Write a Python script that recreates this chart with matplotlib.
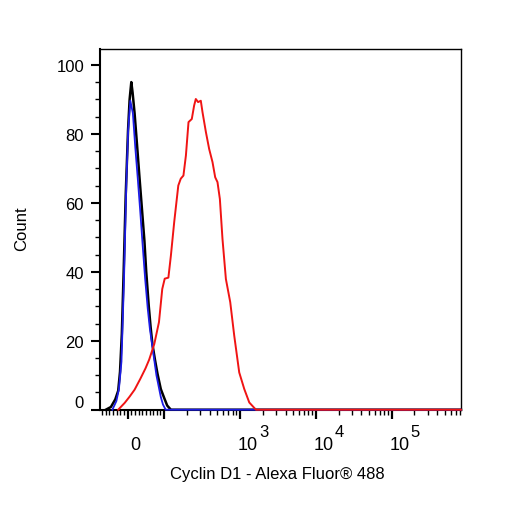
import matplotlib
matplotlib.use("Agg")
import matplotlib.pyplot as plt

plt.rcParams["font.family"] = ["Liberation Sans", "DejaVu Sans"]

# Histogram outlines (x in channel units, y = count)
black_x = [-60, -46, -34, -26, -21, -16, -11, -5.4, 1, 5.4, 10, 13.5, 19, 25.6,
           32, 39, 46, 51, 58, 63, 68, 75, 82, 91, 100, 110, 123, 820000]
black_y = [0, 0.8, 3, 5.5, 11, 22, 40, 62, 81, 90, 95, 92, 86, 77,
           68, 58.5, 49, 40, 30, 24, 19, 14.5, 10.4, 6, 3.5, 1.2, 0, 0]

blue_x = [-42, -31, -24, -17, -10, -3.5, 1.4, 7.3, 14.3, 21, 27.8, 34.6,
          41, 48, 55, 61, 67, 73, 79, 91, 97, 105, 820000]
blue_y = [0, 2.5, 6, 14, 38, 66, 81, 89.6, 86, 76, 67, 57.5,
          48, 38, 29.5, 23.5, 19, 14.5, 10, 3.7, 1.5, 0, 0]

red_x = [-26, -8, 5.4, 19, 35, 49, 59, 73, 86, 95, 102, 114, 123, 136, 154,
         166, 180, 194, 210, 232, 249, 262, 281, 305, 321, 356, 393, 435, 472,
         506, 544, 589, 653, 745, 841, 979, 1141, 1328, 1627, 820000]
red_y = [0, 2, 3.8, 5.8, 9, 12, 14.5, 19, 25.4, 35, 38, 38.3, 44.7, 54.4, 65,
         67, 67.9, 73.7, 83.4, 84.3, 88.2, 90.1, 89.2, 89.6, 86.3, 80.5, 75.6,
         71.8, 67.4, 66, 61.1, 49.5, 37.9, 31.2, 21.5, 10.8, 6, 2.1, 0, 0]

y_major = [0, 20, 40, 60, 80, 100]
y_minor = [v for v in range(5, 105, 5) if v % 20]
x_major = [0, 100, 1000, 10000, 100000]
x_labels = {0: ("0", None), 1000: ("10", "3"), 10000: ("10", "4"), 100000: ("10", "5")}
x_minor = ([-70, -60, -50, -40, -30, -20, -10, 10, 20, 30, 40, 50, 60, 70, 80, 90]
           + [m * 10 ** e for e in (2, 3, 4) for m in range(2, 10)]
           + [m * 100000 for m in range(2, 9)])

fig = plt.figure(figsize=(5.06, 5.06), dpi=100)
ax = fig.add_axes([0.1976, 0.1883, 0.7134, 0.7129])

ax.plot(black_x, black_y, color="black", lw=1.8, zorder=3, clip_on=False)
ax.plot(blue_x, blue_y, color="#1c1ce6", lw=1.3, zorder=3, clip_on=False)
ax.plot(red_x, red_y, color="#f01414", lw=1.4, zorder=3, clip_on=False)

ax.set_xscale("symlog", linthresh=100, linscale=0.432)
ax.set_xlim(-76, 820000)
ax.set_ylim(0, 104.6)

ax.set_xticks(x_major)
ax.set_xticks(x_minor, minor=True)
ax.set_xticklabels([])
ax.set_yticks(y_major)
ax.set_yticks(y_minor, minor=True)
ax.tick_params(axis="x", which="major", length=6.5, width=1.6, direction="out")
ax.tick_params(axis="x", which="minor", length=3.5, width=1.0, direction="out")
ax.tick_params(axis="y", which="major", length=6.5, width=1.5, labelsize=12, pad=5)
ax.tick_params(axis="y", which="minor", length=3.5, width=1.0)
ax.get_yticklabels()[0].set_verticalalignment("bottom")

for spine in ("left", "bottom"):
    ax.spines[spine].set_linewidth(1.5)
for spine in ("top", "right"):
    ax.spines[spine].set_linewidth(1.0)

# FlowJo style decade labels: "10" with a large raised exponent
tr = ax.get_xaxis_transform()
for val, (base, sup) in x_labels.items():
    ax.annotate(base, xy=(val, 0), xycoords=tr, xytext=(8, -39),
                textcoords="offset pixels", ha="center", va="baseline",
                fontsize=13, annotation_clip=False)
    if sup:
        ax.annotate(sup, xy=(val, 0), xycoords=tr, xytext=(19, -26),
                    textcoords="offset pixels", ha="left", va="baseline",
                    fontsize=12, annotation_clip=False)

ax.set_xlabel("Cyclin D1 - Alexa Fluor\u00ae 488", fontsize=12)
ax.xaxis.set_label_coords(0.49, -0.156)
ax.set_ylabel("Count", fontsize=12)
ax.yaxis.set_label_coords(-0.195, 0.504)

fig.savefig("out.png", dpi=100)
